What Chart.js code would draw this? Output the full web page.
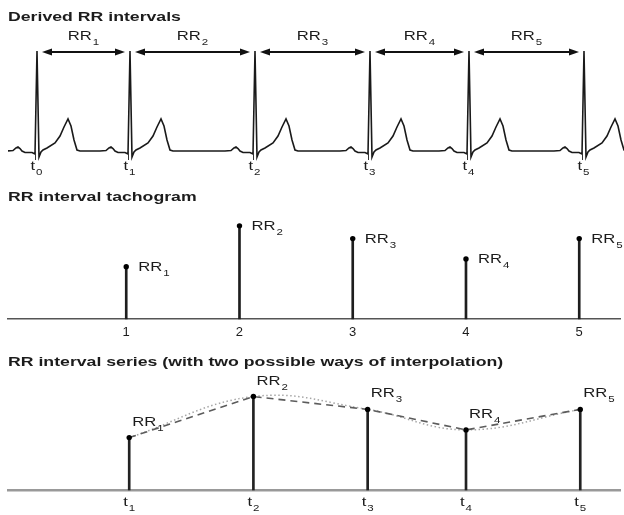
<!DOCTYPE html>
<html><head><meta charset="utf-8">
<script src="https://cdn.jsdelivr.net/npm/chart.js@4/dist/chart.umd.min.js"></script>
<style>
html,body{margin:0;padding:0;background:#fff;}
#wrap{position:relative;width:624px;height:515px;overflow:hidden;background:#fff;}
#wrap canvas{position:absolute;left:0;}
</style></head><body>
<div id="wrap">
<canvas id="c1" width="624" height="180" style="top:0"></canvas>
<canvas id="c2" width="624" height="160" style="top:180px"></canvas>
<canvas id="c3" width="624" height="175" style="top:340px"></canvas>
</div>
<script>
// ---------- data ----------
const titles = ['Derived RR intervals', 'RR interval tachogram', 'RR interval series (with two possible ways of interpolation)'];
const peakSubs = ['0', '1', '2', '3', '4', '5'];            // t_0 ... t_5
const rPeakTimesMs = [0, 744, 1744, 2664, 3456, 4376];        // R-peak times
const rrIntervalsMs = [744, 1000, 920, 792, 920];             // RR_1 ... RR_5
const beatIndex = [1, 2, 3, 4, 5];                            // tachogram ticks
const rrSubs = ['1', '2', '3', '4', '5'];
// one ECG beat, relative to the R peak
const beatOffsetMs = [-240, -192, -168, -152, -136, -120, -96, -40, -16, 0, 16, 32, 48, 80, 144, 184, 216, 248, 272, 296, 320, 344];
const beatMv       = [0, 0.005, 0.03, 0.04, 0.025, 0, -0.015, -0.015, -0.03, 1.0, -0.06, -0.01, 0.01, 0.03, 0.08, 0.15, 0.24, 0.32, 0.25, 0.11, 0.01, 0];
const RR_BASE_MS = 417;
const X_MIN_MS = -232, X_MAX_MS = 4696;

// ---------- helpers ----------
const FONT = '"Liberation Sans", Arial, Helvetica, sans-serif';
const TXT = '#1c1c1c';
const SX = 1.28, SXT = 1.36;
function drawStretched(ctx, txt, x, y, size, bold, sx, align) {
  ctx.save();
  ctx.font = (bold ? 'bold ' : '') + size + 'px ' + FONT;
  const w = ctx.measureText(txt).width * sx;
  const x0 = align === 'center' ? x - w / 2 : x;
  ctx.translate(x0, y); ctx.scale(sx, 1);
  ctx.fillStyle = TXT; ctx.textAlign = 'left'; ctx.textBaseline = 'alphabetic';
  ctx.fillText(txt, 0, 0);
  ctx.restore();
  return w;
}
function measure(ctx, txt, size, sx) {
  ctx.save(); ctx.font = size + 'px ' + FONT;
  const w = ctx.measureText(txt).width * sx; ctx.restore(); return w;
}
function drawSub(ctx, base, sub, x, y, align) {
  const wb = measure(ctx, base, 13, SX), ws = measure(ctx, sub, 9, SX);
  const total = wb + 1 + ws;
  const x0 = align === 'center' ? x - total / 2 : x;
  drawStretched(ctx, base, x0, y, 13, false, SX, 'left');
  drawStretched(ctx, sub, x0 + wb + 1, y + 5, 9, false, SX, 'left');
}
function drawArrow(ctx, xa, xb, y) {
  const L = 10, H = 3.6;
  ctx.save();
  ctx.strokeStyle = '#111'; ctx.fillStyle = '#111'; ctx.lineWidth = 1.8;
  ctx.beginPath(); ctx.moveTo(xa + L - 1, y); ctx.lineTo(xb - L + 1, y); ctx.stroke();
  ctx.beginPath(); ctx.moveTo(xa, y); ctx.lineTo(xa + L, y - H); ctx.lineTo(xa + L, y + H); ctx.closePath(); ctx.fill();
  ctx.beginPath(); ctx.moveTo(xb, y); ctx.lineTo(xb - L, y - H); ctx.lineTo(xb - L, y + H); ctx.closePath(); ctx.fill();
  ctx.restore();
}
const common = {
  responsive: false, animation: false, events: [],
  layout: { padding: { left: 8, right: 0, top: 0, bottom: 0 } },
  plugins: { legend: { display: false }, tooltip: { enabled: false }, title: { display: false } }
};

// ---------- panel 1: ECG ----------
const ecgData = [{ x: X_MIN_MS, y: 0 }];
rPeakTimesMs.forEach(r => beatOffsetMs.forEach((o, i) => ecgData.push({ x: r + o, y: beatMv[i] })));
ecgData.push({ x: X_MAX_MS, y: 0 });

const ecgDecor = {
  id: 'ecgDecor',
  afterDatasetsDraw(chart) {
    const { ctx, scales: { x, y } } = chart;
    drawStretched(ctx, titles[0], 8, 21, 13, true, SXT, 'left');
    const base = y.getPixelForValue(0);
    const top = y.getPixelForValue(Math.max(...beatMv)) + 1;
    for (let i = 0; i < rrIntervalsMs.length; i++) {
      const xa = x.getPixelForValue(rPeakTimesMs[i]) + 5;
      const xb = x.getPixelForValue(rPeakTimesMs[i + 1]) - 5;
      drawArrow(ctx, xa, xb, top);
      drawSub(ctx, 'RR', rrSubs[i], (xa + xb) / 2, top - 12, 'center');
    }
    ctx.save(); ctx.strokeStyle = '#333'; ctx.lineWidth = 1;
    rPeakTimesMs.forEach((t, i) => {
      const px = Math.round(x.getPixelForValue(t)) - 1.5;
      ctx.beginPath(); ctx.moveTo(px, base); ctx.lineTo(px, base + 9); ctx.stroke();
      drawSub(ctx, 't', peakSubs[i], px + 1, base + 19, 'center');
    });
    ctx.restore();
  }
};
new Chart(document.getElementById('c1'), {
  type: 'scatter',
  data: { datasets: [{ data: ecgData, showLine: true, borderColor: '#1a1a1a', borderWidth: 1.6, pointRadius: 0, tension: 0 }] },
  options: Object.assign({}, common, {
    scales: {
      x: { type: 'linear', display: false, min: X_MIN_MS, max: X_MAX_MS },
      y: { display: false, min: -0.29, max: 1.51 }
    }
  }),
  plugins: [ecgDecor]
});

// ---------- panel 2: tachogram ----------
const tachoPts = beatIndex.map((b, i) => ({ x: b, y: rrIntervalsMs[i] }));
const tachoDecor = {
  id: 'tachoDecor',
  afterDatasetsDraw(chart) {
    const { ctx, scales: { x, y } } = chart;
    drawStretched(ctx, titles[1], 8, 21, 13, true, SXT, 'left');
    tachoPts.forEach((p, i) => {
      drawSub(ctx, 'RR', rrSubs[i], x.getPixelForValue(p.x) + 12, y.getPixelForValue(p.y) + 4, 'left');
    });
  }
};
new Chart(document.getElementById('c2'), {
  type: 'bar',
  data: {
    datasets: [
      { type: 'bar', data: tachoPts, base: RR_BASE_MS, barThickness: 2, backgroundColor: '#1e1e1e', borderWidth: 0, order: 2 },
      { type: 'scatter', data: tachoPts, pointRadius: 2.7, pointBackgroundColor: '#000', pointBorderWidth: 0, order: 1 }
    ]
  },
  options: Object.assign({}, common, {
    scales: {
      x: {
        type: 'linear', min: -0.044, max: 5.36, offset: false, position: { y: RR_BASE_MS },
        grid: { display: false, drawTicks: false },
        border: { display: true, color: '#555', width: 1.6 },
        afterBuildTicks: s => { s.ticks = beatIndex.map(v => ({ value: v })); },
        ticks: { font: { size: 13, family: FONT }, color: TXT, padding: 6, maxRotation: 0, autoSkip: false }
      },
      y: { display: false, min: 310, max: 1262 }
    }
  }),
  plugins: [tachoDecor]
});

// ---------- panel 3: RR interval series ----------
const seriesPts = rrIntervalsMs.map((v, i) => ({ x: rPeakTimesMs[i + 1], y: v }));
const seriesDecor = {
  id: 'seriesDecor',
  afterDatasetsDraw(chart) {
    const { ctx, scales: { x, y } } = chart;
    drawStretched(ctx, titles[2], 8, 26, 13, true, SXT, 'left');
    const base = y.getPixelForValue(RR_BASE_MS);
    seriesPts.forEach((p, i) => {
      const px = x.getPixelForValue(p.x), py = y.getPixelForValue(p.y);
      drawSub(ctx, 'RR', rrSubs[i], px + 3, py - 12, 'left');
      drawSub(ctx, 't', rrSubs[i], px, base + 16, 'center');
    });
  }
};
new Chart(document.getElementById('c3'), {
  type: 'bar',
  data: {
    datasets: [
      { type: 'line', data: seriesPts, borderColor: '#a6a6a6', borderWidth: 1.5, borderDash: [1.5, 2.5], tension: 0.4, pointRadius: 0, fill: false, order: 4 },
      { type: 'line', data: seriesPts, borderColor: '#5c5c5c', borderWidth: 1.6, borderDash: [7, 5], tension: 0, pointRadius: 0, fill: false, order: 3 },
      { type: 'bar', data: seriesPts, base: RR_BASE_MS, barThickness: 2, backgroundColor: '#222', borderWidth: 0, order: 2 },
      { type: 'scatter', data: seriesPts, pointRadius: 2.7, pointBackgroundColor: '#000', pointBorderWidth: 0, order: 1 }
    ]
  },
  options: Object.assign({}, common, {
    scales: {
      x: {
        type: 'linear', min: X_MIN_MS, max: X_MAX_MS, offset: false, position: { y: RR_BASE_MS },
        grid: { display: false, drawTicks: false },
        border: { display: true, color: '#999', width: 2.5 },
        ticks: { display: false }
      },
      y: { display: false, min: 286, max: 1328 }
    }
  }),
  plugins: [seriesDecor]
});
</script>
</body></html>
